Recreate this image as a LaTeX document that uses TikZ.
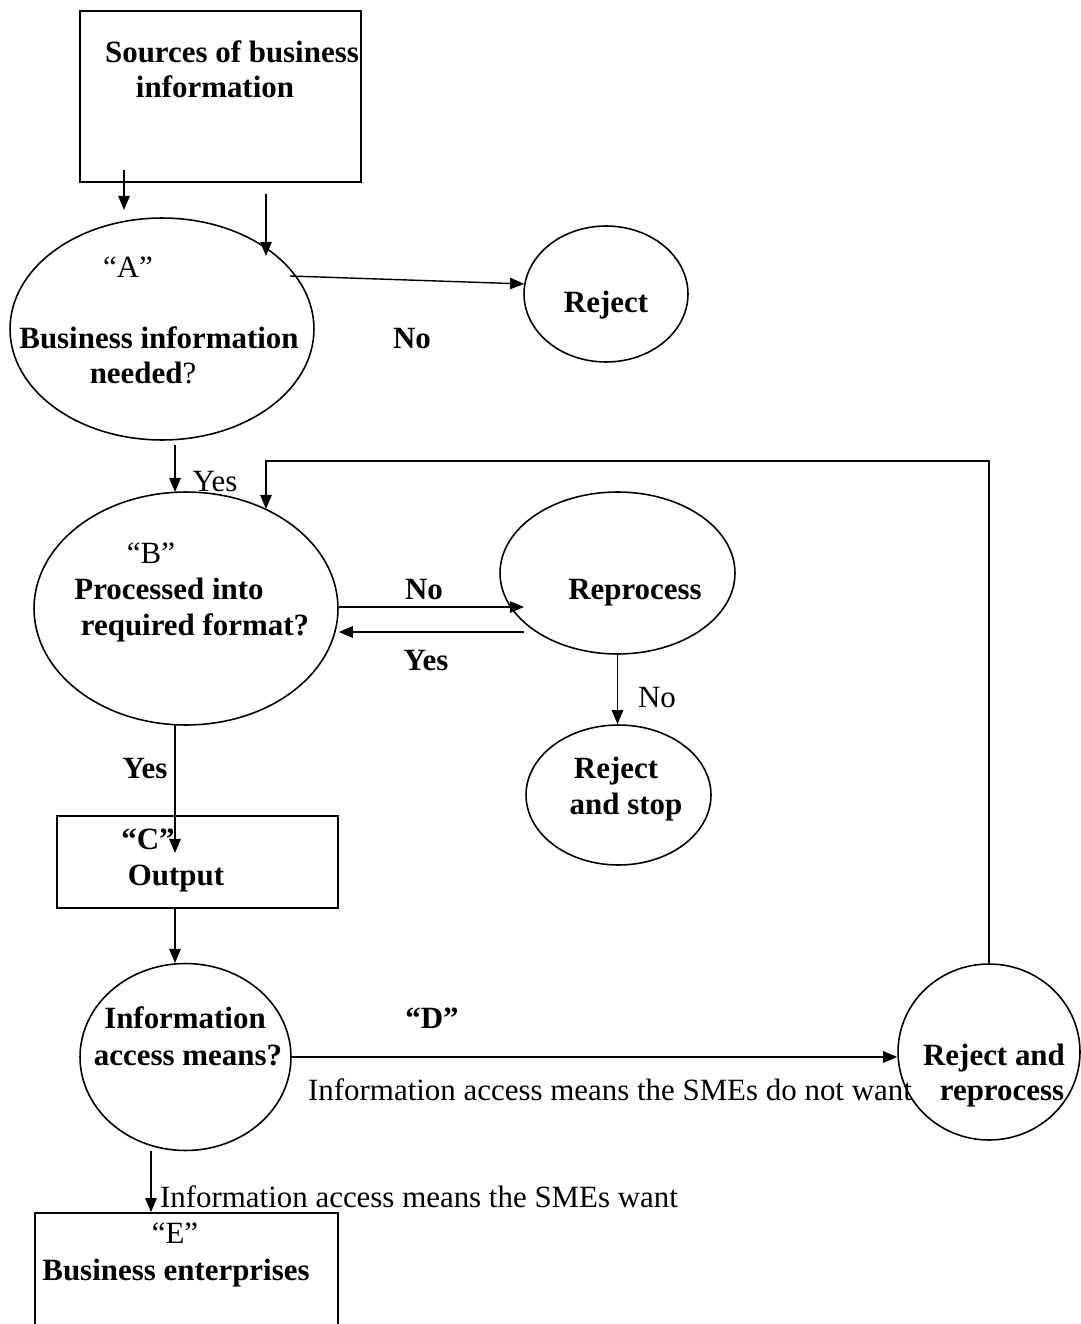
\documentclass[tikz,border=0pt]{standalone}
\usepackage{fontspec}
\setmainfont{Liberation Serif}
\usetikzlibrary{shapes.geometric, arrows.meta, positioning, calc}
\tikzset{
  % Flow shapes
  flowbox/.style={rectangle, draw=black, line width=1pt, inner sep=0pt},
  bubble/.style={ellipse, draw=black, line width=0.9pt, inner sep=0pt},
  % Arrows
  arr/.style={-{Triangle[length=8pt,width=6.5pt]}, line width=0.8pt},
  % Text
  btext/.style={font=\fontsize{17.6}{21}\selectfont\bfseries, inner sep=0pt, anchor=base},
  ntext/.style={font=\fontsize{17.6}{21}\selectfont, inner sep=0pt, anchor=base},
}

\begin{document}
\begin{tikzpicture}[x=0.02cm, y=-0.02cm]
  \useasboundingbox (0,0) rectangle (1080,1324);

  % Boxes and bubbles
  \node[flowbox, minimum width=5.62cm, minimum height=3.42cm] (nSrc) at (220.5,96.5) {};
  \node[bubble, minimum width=6.08cm, minimum height=4.44cm] (nA) at (162,329) {};
  \node[bubble, minimum width=3.28cm, minimum height=2.72cm] (nRej) at (606,294) {};
  \node[bubble, minimum width=6.08cm, minimum height=4.66cm] (nB) at (186,608.5) {};
  \node[bubble, minimum width=4.70cm, minimum height=3.24cm] (nRep) at (617.5,573) {};
  \node[bubble, minimum width=3.70cm, minimum height=2.80cm] (nStop) at (618.5,795) {};
  \node[flowbox, minimum width=5.62cm, minimum height=1.84cm] (nC) at (197.5,862) {};
  \node[bubble, minimum width=4.22cm, minimum height=3.74cm] (nInfo) at (185.5,1057) {};
  \node[bubble, minimum width=3.64cm, minimum height=3.52cm] (nRR) at (989,1052) {};
  \node[flowbox, minimum width=6.06cm, minimum height=2.54cm] (nE) at (186.5,1276.5) {};

  % Labels
  \node[btext] (tSrc1) at (232,63) {Sources of business};
  \node[btext] (tSrc2) at (215,98) {information};
  \node[ntext] (tA) at (128,277) {“A”};
  \node[btext] (tA1) at (159,348) {Business information};
  \node[ntext] (tA2) at (143,383) {\textbf{needed}?};
  \node[btext] (tNo1) at (412,348) {No};
  \node[btext] (tRej) at (606,313) {Reject};
  \node[ntext] (tYes1) at (215,491) {Yes};
  \node[ntext] (tB) at (151,563) {“B”};
  \node[btext] (tB1) at (169,599) {Processed into};
  \node[btext] (tB2) at (195,635) {required format?};
  \node[btext] (tNo2) at (424,599) {No};
  \node[btext] (tRep) at (635,599) {Reprocess};
  \node[btext] (tYes2) at (426,670) {Yes};
  \node[ntext] (tNo3) at (657,707) {No};
  \node[btext] (tYes3) at (145,778) {Yes};
  \node[btext] (tStop1) at (616,778) {Reject};
  \node[btext] (tStop2) at (626,814) {and stop};
  \node[btext] (tC) at (148,849) {“C”};
  \node[btext] (tC1) at (176,885) {Output};
  \node[btext] (tInfo1) at (185,1028) {Information};
  \node[btext] (tInfo2) at (188,1065) {access means?};
  \node[btext] (tD) at (432,1028) {“D”};
  \node[ntext] (tNot) at (610,1100) {Information access means the SMEs do not want};
  \node[btext] (tRR1) at (994,1065) {Reject and};
  \node[btext] (tRR2) at (1002,1100) {reprocess};
  \node[ntext] (tWant) at (419,1207) {Information access means the SMEs want};
  \node[ntext] (tE) at (175,1243) {“E”};
  \node[btext] (tE1) at (176,1280) {Business enterprises};

  % Connector ends
  \coordinate (s1) at (124,170);
  \coordinate (s1e) at (124,210);
  \coordinate (s2) at (266,194);
  \coordinate (s2e) at (266,256);
  \coordinate (a1) at (290,276);
  \coordinate (yB) at (175,445);
  \coordinate (yBe) at (175,492);
  \coordinate (bNo) at (524,607);
  \coordinate (bYes) at (524,632);
  \coordinate (cOut) at (175,725);
  \coordinate (cOute) at (175,853);
  \coordinate (dIn) at (175,908);
  \coordinate (dIne) at (175,963);
  \coordinate (eIn) at (151,1151);
  \coordinate (fbTurn) at (266,461);
  \coordinate (fbEnd) at (266,509);

  % Connectors
  \draw[arr] (s1) -- (s1e);
  \draw[arr] (s2) -- (s2e);
  \draw[arr] (a1) -- (nRej.173);
  \draw[arr] (yB) -- (yBe);
  \draw[arr] (nB.east |- bNo) -- (bNo);
  \draw[arr] (bYes) -- (nB.east |- bYes);
  \draw[arr] (nRep.south) -- (nRep.south |- nStop.north);
  \draw[arr] (cOut) -- (cOute);
  \draw[arr] (dIn) -- (dIne);
  \draw[arr] (nInfo.east) -- (nInfo.east -| nRR.west);
  \draw[arr] (eIn) -- (eIn |- nE.north);
  \draw[arr] (nRR.north) |- (fbTurn) -- (fbEnd);
\end{tikzpicture}
\end{document}
